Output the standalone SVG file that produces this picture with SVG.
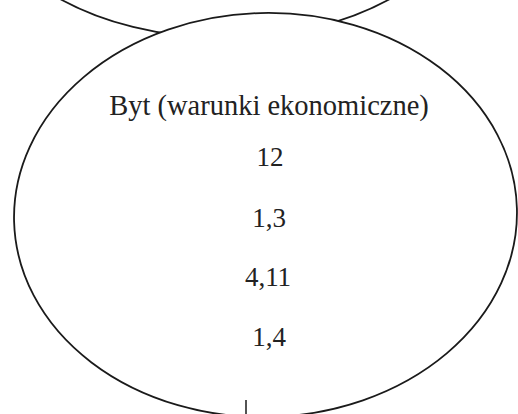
<svg xmlns="http://www.w3.org/2000/svg" width="518" height="414" viewBox="0 0 518 414">
<style>
.node{fill:#fff;stroke:#1a1a1a;stroke-width:1.8}
.conn{stroke:#1a1a1a;stroke-width:1.5;fill:none}
.t{font-family:"Liberation Serif","Times New Roman",serif;fill:#222;text-anchor:middle}
.title{font-size:28.5px}
.num{font-size:27px}
</style>
<rect width="518" height="414" fill="#fff"/>
<g id="node-top">
<ellipse class="node" cx="225" cy="-119" rx="250" ry="157"/>
</g>
<g id="node-byt">
<ellipse class="node" cx="265.5" cy="215" rx="251.5" ry="202" transform="rotate(-1.5 265.5 215)"/>
<text class="t title" x="269" y="115">Byt (warunki ekonomiczne)</text>
<text class="t num" x="270" y="166">12</text>
<text class="t num" x="269" y="227">1,3</text>
<text class="t num" x="268" y="286">4,11</text>
<text class="t num" x="269" y="346">1,4</text>
</g>
<g id="connectors">
<line class="conn" x1="246" y1="400" x2="246" y2="414"/>
</g>
</svg>
